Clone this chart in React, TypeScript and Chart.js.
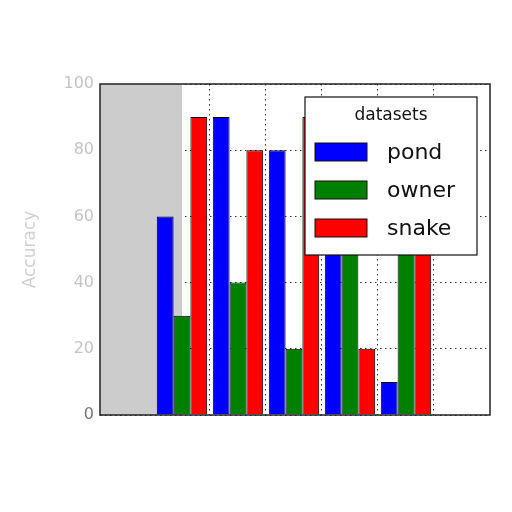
import { useEffect, useRef } from 'react';
import { Chart, registerables } from 'chart.js';

Chart.register(...registerables);

const groups = [0, 1, 2, 3, 4];
const pond = [60, 90, 80, 70, 10];
const owner = [30, 40, 20, 60, 60];
const snake = [90, 80, 90, 20, 70];
const yTicks = [0, 20, 40, 60, 80, 100];

const FONT = "'DejaVu Sans', sans-serif";

// gray strip left of the first group + box round the plot
const framePlugin = {
  id: 'frame',
  beforeDatasetsDraw(chart: any) {
    const { ctx, chartArea, scales } = chart;
    const x0 = scales.x.getPixelForValue(groups[0]);
    ctx.save();
    ctx.fillStyle = '#cccccc';
    ctx.fillRect(chartArea.left, chartArea.top, x0 - chartArea.left, chartArea.bottom - chartArea.top);
    ctx.restore();
  },
  afterDraw(chart: any) {
    const { ctx, chartArea } = chart;
    ctx.save();
    ctx.strokeStyle = '#222';
    ctx.lineWidth = 1.5;
    ctx.strokeRect(chartArea.left, chartArea.top, chartArea.right - chartArea.left, chartArea.bottom - chartArea.top);
    ctx.restore();
  }
};

// matplotlib-style legend drawn inside the plot
const boxLegendPlugin = {
  id: 'boxLegend',
  afterDraw(chart: any) {
    const { ctx } = chart;
    const left = 305, top = 97, w = 172, h = 158;
    ctx.save();
    ctx.fillStyle = '#fff';
    ctx.fillRect(left, top, w, h);
    ctx.strokeStyle = '#111';
    ctx.lineWidth = 1.2;
    ctx.strokeRect(left, top, w, h);
    ctx.fillStyle = '#111';
    ctx.textBaseline = 'middle';
    ctx.textAlign = 'center';
    ctx.font = `17px ${FONT}`;
    ctx.fillText('datasets', left + w / 2, top + 19);
    ctx.textAlign = 'left';
    ctx.font = `22px ${FONT}`;
    chart.data.datasets.forEach((ds: any, i: number) => {
      const cy = top + 55 + i * 38;
      ctx.fillStyle = ds.backgroundColor;
      ctx.fillRect(left + 10, cy - 9, 52, 18);
      ctx.strokeStyle = '#111';
      ctx.lineWidth = 1;
      ctx.strokeRect(left + 10, cy - 9, 52, 18);
      ctx.fillStyle = '#111';
      ctx.fillText(ds.label, left + 82, cy + 1);
    });
    ctx.restore();
  }
};

export default function App() {
  const canvasRef = useRef<HTMLCanvasElement>(null);
  const chartRef = useRef<Chart | null>(null);

  useEffect(() => {
    if (!canvasRef.current) return;
    if (chartRef.current) chartRef.current.destroy();

    const mk = (label: string, values: number[], color: string) => ({
      label,
      data: groups.map((g, i) => ({ x: g, y: values[i] })),
      backgroundColor: color,
      borderColor: '#000',
      borderWidth: 1,
      categoryPercentage: 0.9,
      barPercentage: 1
    });

    chartRef.current = new Chart(canvasRef.current, {
      type: 'bar',
      data: {
        datasets: [
          mk('pond', pond, '#0000ff'),
          mk('owner', owner, '#008000'),
          mk('snake', snake, '#ff0000')
        ]
      },
      options: {
        animation: false,
        responsive: false,
        layout: { padding: { left: 0, top: 84, right: 22, bottom: 97 } },
        plugins: { legend: { display: false }, tooltip: { enabled: false } },
        scales: {
          x: {
            type: 'linear',
            offset: false,
            min: -1.464,
            max: 5.5,
            z: 1,
            afterBuildTicks: (s: any) => {
              s.ticks = groups.map((v) => ({ value: v }));
            },
            afterFit: (s: any) => {
              s.height = 0;
            },
            ticks: { display: false },
            border: { display: false, dash: [1.5, 3.5] },
            grid: { color: '#333', lineWidth: 1, drawTicks: false }
          },
          y: {
            min: 0,
            max: 100,
            z: 1,
            afterBuildTicks: (s: any) => {
              s.ticks = yTicks.map((v) => ({ value: v }));
            },
            afterFit: (s: any) => {
              s.width = 100;
            },
            border: { display: false, dash: [1.5, 3.5] },
            grid: { color: '#333', lineWidth: 1, drawTicks: false },
            ticks: {
              padding: 6,
              color: (c: any) => (c.tick.value === 0 ? '#777' : '#c4c4c4'),
              font: { family: FONT, size: 16 }
            },
            title: {
              display: true,
              text: 'Accuracy',
              color: '#d0d0d0',
              font: { family: FONT, size: 17 },
              padding: { top: 20, bottom: 0 }
            }
          }
        }
      },
      plugins: [framePlugin, boxLegendPlugin]
    } as any);

    return () => {
      if (chartRef.current) {
        chartRef.current.destroy();
        chartRef.current = null;
      }
    };
  }, []);

  return (
    <div style={{ position: 'fixed', left: 0, top: 0, width: 512, height: 512, background: '#fff' }}>
      <canvas ref={canvasRef} width={512} height={512} style={{ width: 512, height: 512 }} />
    </div>
  );
}
